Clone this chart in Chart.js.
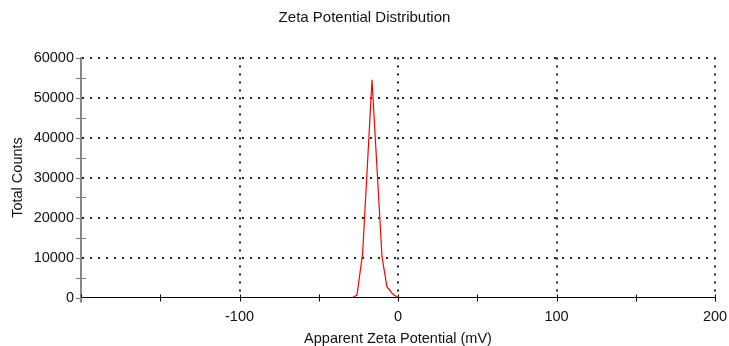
<!DOCTYPE html>
<html>
<head>
<meta charset="utf-8">
<script src="https://cdn.jsdelivr.net/npm/chart.js@4/dist/chart.umd.min.js"></script>
<style>
  html, body { margin: 0; padding: 0; background: #fff; }
  #wrap { width: 729px; height: 346px; }
</style>
</head>
<body>
<div id="wrap"><canvas id="Graph_Zeta"></canvas></div>
<script>
// values
var zetaMv = [-150, -28.4, -25.9, -22.3, -16.4, -10.1, -7.0, -3.2, 0, 150];
var totalCounts = [0, 0, 600, 11100, 54400, 10200, 2700, 800, 0, 0];
var xTicks = [-200, -100, 0, 100, 200];
var yTicks = [0, 10000, 20000, 30000, 40000, 50000, 60000];
var xMinorTicks = [-200, -150, -100, -50, 0, 50, 100, 150, 200];
var yMinorTicks = [0, 5000, 10000, 15000, 20000, 25000, 30000, 35000, 40000, 45000, 50000, 55000, 60000];

var FONT = "'Liberation Sans', Arial, sans-serif";

var points = zetaMv.map(function (v, i) { return { x: v, y: totalCounts[i] }; });

// small crossing tick marks like the original instrument plot
var tickMarks = {
    id: "tickMarks",
    afterDraw: function (chart) {
        var ctx = chart.ctx;
        var area = chart.chartArea;
        var xs = chart.scales.x;
        var ys = chart.scales.y;
        ctx.save();
        ctx.lineWidth = 1;
        ctx.strokeStyle = "#000";
        ctx.beginPath();
        xMinorTicks.forEach(function (v) {
            var px = Math.round(xs.getPixelForValue(v)) + 0.5;
            ctx.moveTo(px, area.bottom - 3);
            ctx.lineTo(px, area.bottom + 4);
        });
        ctx.stroke();
        ctx.strokeStyle = "#777";
        ctx.beginPath();
        yMinorTicks.forEach(function (v) {
            var py = Math.round(ys.getPixelForValue(v)) + 0.5;
            var major = yTicks.indexOf(v) >= 0;
            ctx.moveTo(area.left - 5, py);
            ctx.lineTo(major ? area.left : area.left + 5, py);
        });
        ctx.stroke();
        ctx.lineWidth = 2;
        ctx.strokeStyle = "#888";
        ctx.beginPath();
        ctx.moveTo(area.left, area.bottom);
        ctx.lineTo(area.left, area.bottom + 5);
        ctx.stroke();
        ctx.restore();
    }
};

var ctx = document.getElementById("Graph_Zeta").getContext("2d");
var graph = new Chart(ctx, {
    type: "line",
    data: {
        datasets: [{
            label: "Total Counts",
            data: points,
            borderColor: "#ff0000",
            backgroundColor: "#ff0000",
            borderWidth: 1.2,
            pointRadius: 0,
            tension: 0,
            fill: false
        }]
    },
    options: {
        responsive: true,
        maintainAspectRatio: false,
        animation: false,
        layout: { padding: { left: 0, right: 0, top: 0, bottom: 0 } },
        plugins: {
            legend: { display: false },
            tooltip: { enabled: false },
            title: {
                display: true,
                text: "Zeta Potential Distribution",
                color: "#111",
                font: { family: FONT, size: 15, weight: "normal", lineHeight: 1.2 },
                padding: { top: 9, bottom: 30.5 }
            }
        },
        scales: {
            x: {
                type: "linear",
                min: -200,
                max: 200,
                afterBuildTicks: function (scale) {
                    scale.ticks = xTicks.map(function (v) { return { value: v }; });
                },
                afterFit: function (scale) {
                    scale.height = 48.5;
                    scale.paddingLeft = 0;
                    scale.paddingRight = 14;
                },
                ticks: {
                    color: "#111",
                    font: { family: FONT, size: 14.5 },
                    padding: 11,
                    maxRotation: 0,
                    callback: function (v) { return v === -200 ? "" : String(v); }
                },
                grid: {
                    drawTicks: false,
                    lineWidth: 2,
                    color: function (c) {
                        return c.tick && c.tick.value === -200 ? "rgba(0,0,0,0)" : "#222";
                    }
                },
                border: { display: true, color: "#000", width: 1, z: 1, dash: [2, 6] },
                title: {
                    display: true,
                    text: "Apparent Zeta Potential (mV)",
                    color: "#111",
                    font: { family: FONT, size: 14.5, lineHeight: 1 },
                    padding: { top: 0, bottom: 0 }
                }
            },
            y: {
                min: 0,
                max: 60000,
                afterBuildTicks: function (scale) {
                    scale.ticks = yTicks.map(function (v) { return { value: v }; });
                },
                afterFit: function (scale) { scale.width = 81; },
                ticks: {
                    color: "#111",
                    font: { family: FONT, size: 14.5 },
                    padding: 7,
                    callback: function (v) { return String(v); }
                },
                grid: {
                    drawTicks: false,
                    lineWidth: 2,
                    color: function (c) {
                        return c.tick && c.tick.value === 0 ? "rgba(0,0,0,0)" : "#222";
                    }
                },
                border: { display: true, color: "#888", width: 2, z: 1, dash: [2, 6] },
                title: {
                    display: true,
                    text: "Total Counts",
                    color: "#111",
                    font: { family: FONT, size: 14.5, lineHeight: 1.2 },
                    padding: { top: 9.3, bottom: 0 }
                }
            }
        }
    },
    plugins: [tickMarks]
});
</script>
</body>
</html>
